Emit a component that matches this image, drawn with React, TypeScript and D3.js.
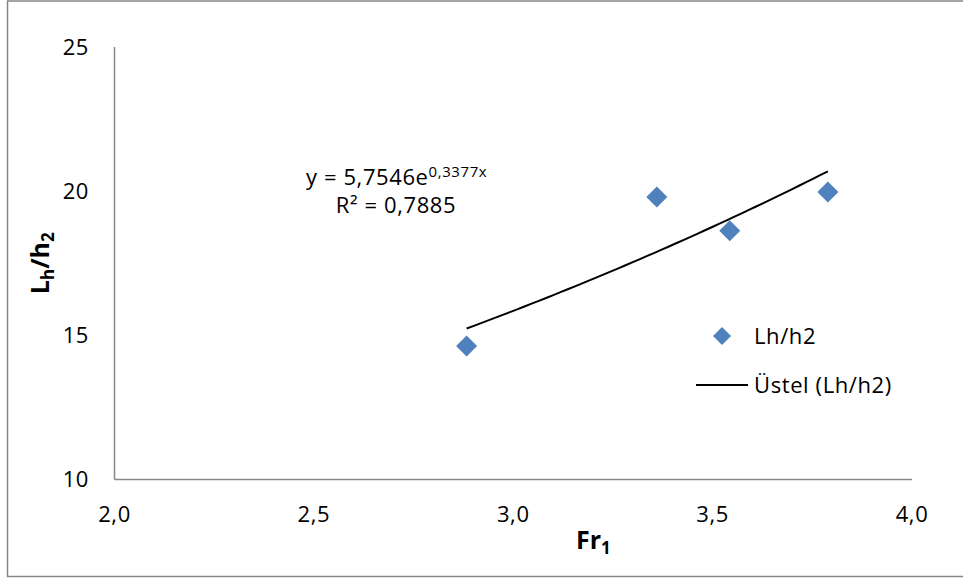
import * as d3 from "d3";

// Fr1 vs Lh/h2 readings
const fr1 = [2.883, 3.36, 3.543, 3.789];
const lhh2 = [14.63, 19.8, 18.63, 19.97];

// fitted exponential trend y = a * e^(b x), as printed on the chart
const trendA = 5.7546;
const trendB = 0.3377;
const trendLabel = "y = 5,7546e";
const trendExp = "0,3377x";
const r2Label = "0,7885";

const xTicks = [2.0, 2.5, 3.0, 3.5, 4.0];
const yTicks = [10, 15, 20, 25];

const width = 963;
const height = 578;
const left = 114.5;
const right = 912;
const top = 47;
const bottom = 479.5;

const font = "'Open Sans', 'Liberation Sans', sans-serif";
const fs = 22;
const ls = 0.6;
const tfs = 25;
const blue = "#4f81bd";

const fmt = (d: number) => d3.format(".1f")(d).replace(".", ",");

const Diamond = ({ cx, cy, r }: { cx: number; cy: number; r: number }) => (
  <path d={`M${cx},${cy - r}L${cx + r},${cy}L${cx},${cy + r}L${cx - r},${cy}Z`} fill={blue} />
);

export default function App() {
  const x = d3.scaleLinear().domain([2, 4]).range([left, right]);
  const y = d3.scaleLinear().domain([10, 25]).range([bottom, top]);

  const x0 = d3.min(fr1)!;
  const x1 = d3.max(fr1)!;
  const trend = d3.range(0, 51).map((i) => {
    const xv = x0 + ((x1 - x0) * i) / 50;
    return [xv, trendA * Math.exp(trendB * xv)] as [number, number];
  });
  const line = d3
    .line<[number, number]>()
    .x((d) => x(d[0]))
    .y((d) => y(d[1]));

  return (
    <svg
      width={width}
      height={height}
      style={{ position: "absolute", left: 0, top: 0, background: "#fff" }}
      fontFamily={font}
    >
      <rect x={7.5} y={1} width={970} height={575.5} fill="#fff" stroke="#868686" strokeWidth={1.5} />

      {/* axes */}
      <line x1={left} x2={left} y1={top} y2={bottom} stroke="#868686" strokeWidth={1.5} />
      <line x1={left} x2={right} y1={bottom} y2={bottom} stroke="#868686" strokeWidth={1.5} />

      <g fontSize={fs} letterSpacing={ls} fill="#000">
        {yTicks.map((t) => (
          <text key={t} x={89} y={y(t)} dy="0.36em" textAnchor="end">
            {t}
          </text>
        ))}
        {xTicks.map((t) => (
          <text key={t} x={x(t)} y={522} textAnchor="middle">
            {fmt(t)}
          </text>
        ))}
      </g>

      {/* axis titles */}
      <text x={576} y={549} fontSize={tfs} fontWeight="bold" fill="#000">
        Fr<tspan fontSize={tfs * 0.68} dy={5}>1</tspan>
      </text>
      <text
        transform={`translate(49,${(top + bottom) / 2}) rotate(-90)`}
        textAnchor="middle"
        fontSize={tfs}
        fontWeight="bold"
        fill="#000"
      >
        L<tspan fontSize={tfs * 0.68} dy={5}>h</tspan>
        <tspan dy={-5}>/h</tspan>
        <tspan fontSize={tfs * 0.68} dy={5}>2</tspan>
      </text>

      {/* trend line */}
      <path d={line(trend) ?? ""} fill="none" stroke="#000" strokeWidth={2} />

      {/* points */}
      {fr1.map((v, i) => (
        <Diamond key={i} cx={x(v)} cy={y(lhh2[i])} r={10.5} />
      ))}

      <g fontSize={fs} letterSpacing={ls} fill="#000">
        {/* equation */}
        <text x={306} y={185}>
          {trendLabel}
          <tspan fontSize={fs * 0.68} dy={-8}>{trendExp}</tspan>
        </text>
        <text x={396} y={213} textAnchor="middle">
          R² = {r2Label}
        </text>

        {/* legend */}
        <text x={754} y={344}>Lh/h2</text>
        <text x={754} y={393}>Üstel (Lh/h2)</text>
      </g>
      <Diamond cx={722} cy={336} r={9} />
      <line x1={696} x2={748} y1={385} y2={385} stroke="#000" strokeWidth={2} />
    </svg>
  );
}
